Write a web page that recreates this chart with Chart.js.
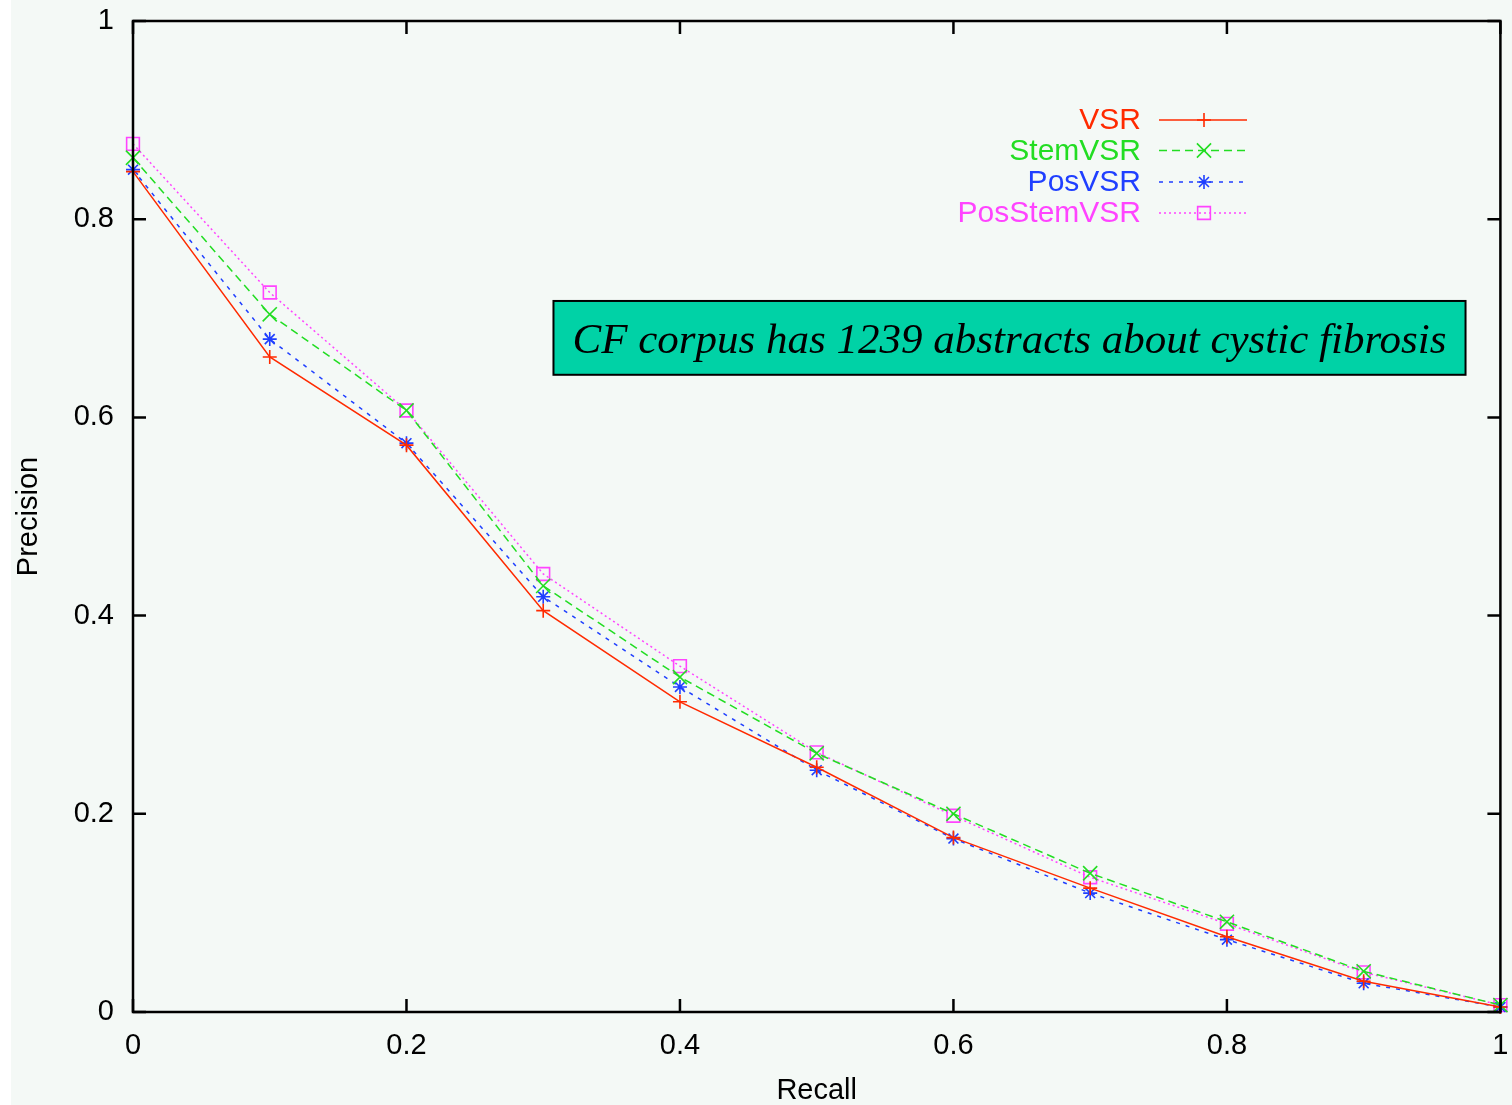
<!DOCTYPE html>
<html>
<head>
<meta charset="utf-8">
<script src="https://cdn.jsdelivr.net/npm/chart.js@4.4.1/dist/chart.umd.min.js"></script>
<style>
  html, body { margin: 0; padding: 0; background: #ffffff; }
  #wrap { width: 1512px; height: 1105px; position: relative; }
  canvas { display: block; }
</style>
</head>
<body>
<div id="wrap"><canvas id="c" width="1512" height="1105"></canvas></div>
<script>
// ---- Data ----
const recall = [0, 0.1, 0.2, 0.3, 0.4, 0.5, 0.6, 0.7, 0.8, 0.9, 1.0];
const seriesNames = ['VSR', 'StemVSR', 'PosVSR', 'PosStemVSR'];
const vsr        = [0.848, 0.661, 0.572, 0.405, 0.313, 0.247, 0.176, 0.125, 0.076, 0.031, 0.005];
const stemVsr    = [0.862, 0.704, 0.607, 0.430, 0.338, 0.261, 0.200, 0.140, 0.091, 0.041, 0.007];
const posVsr     = [0.850, 0.679, 0.574, 0.419, 0.328, 0.244, 0.175, 0.120, 0.073, 0.029, 0.005];
const posStemVsr = [0.876, 0.726, 0.607, 0.442, 0.349, 0.262, 0.198, 0.136, 0.089, 0.040, 0.007];
const xTickValues = [0, 0.2, 0.4, 0.6, 0.8, 1];
const xTickLabels = ['0', '0.2', '0.4', '0.6', '0.8', '1'];
const yTickValues = [0, 0.2, 0.4, 0.6, 0.8, 1];
const yTickLabels = ['0', '0.2', '0.4', '0.6', '0.8', '1'];
const xTitle = 'Recall';
const yTitle = 'Precision';
const noteText = 'CF corpus has 1239 abstracts about cystic fibrosis';

const colors = ['#ff2a00', '#22dd22', '#1f3fff', '#ff44ff'];
const dashes = [[], [8, 5], [4, 6], [2, 3]];
const markers = ['cross', 'crossRot', 'star', 'rect'];
const radii = [7, 10, 7, 9];
const allSeries = [vsr, stemVsr, posVsr, posStemVsr];

const FONT = '"Liberation Sans", Arial, Helvetica, sans-serif';

function toPoints(vals) { return recall.map((r, i) => ({ x: r, y: vals[i] })); }

const datasets = allSeries.map((vals, i) => ({
  label: seriesNames[i],
  data: toPoints(vals),
  borderColor: colors[i],
  backgroundColor: 'rgba(0,0,0,0)',
  borderWidth: 1.5,
  borderDash: dashes[i],
  pointStyle: markers[i],
  pointRadius: radii[i],
  pointHoverRadius: radii[i],
  pointBorderColor: colors[i],
  pointBackgroundColor: 'rgba(0,0,0,0)',
  pointBorderWidth: 1.6,
  tension: 0,
  fill: false,
  clip: false
}));

// Background plugin
const bgPlugin = {
  id: 'bg',
  beforeDraw(chart) {
    const ctx = chart.ctx;
    ctx.save();
    ctx.fillStyle = '#ffffff';
    ctx.fillRect(0, 0, chart.width, chart.height);
    ctx.fillStyle = '#f4f9f6';
    ctx.fillRect(11, 0, chart.width - 11, chart.height);
    ctx.restore();
  }
};

// Frame + inward ticks on all four sides
const framePlugin = {
  id: 'frame',
  afterDraw(chart) {
    const { ctx, chartArea: a, scales } = chart;
    const xs = scales.x, ys = scales.y;
    const tl = 13;
    ctx.save();
    ctx.strokeStyle = '#000000';
    ctx.lineWidth = 2.5;
    ctx.beginPath();
    xTickValues.forEach(v => {
      const px = xs.getPixelForValue(v);
      ctx.moveTo(px, a.bottom); ctx.lineTo(px, a.bottom - tl);
      ctx.moveTo(px, a.top); ctx.lineTo(px, a.top + tl);
    });
    yTickValues.forEach(v => {
      const py = ys.getPixelForValue(v);
      ctx.moveTo(a.left, py); ctx.lineTo(a.left + tl, py);
      ctx.moveTo(a.right, py); ctx.lineTo(a.right - tl, py);
    });
    ctx.stroke();
    ctx.strokeRect(a.left, a.top, a.right - a.left, a.bottom - a.top);
    ctx.restore();
  }
};

// Gnuplot-style key: text right-aligned, sample line with marker to its right
const keyPlugin = {
  id: 'gkey',
  afterDatasetsDraw(chart) {
    const { ctx } = chart;
    const textRight = 1141;
    const lineL = 1159, lineR = 1247, markX = 1204;
    const rowY = [120, 150.5, 182, 213];
    ctx.save();
    ctx.font = '30px ' + FONT;
    ctx.textAlign = 'right';
    ctx.textBaseline = 'middle';
    chart.data.datasets.forEach((ds, i) => {
      const y = rowY[i];
      ctx.fillStyle = ds.borderColor;
      ctx.fillText(ds.label, textRight, y + 1);
      ctx.strokeStyle = ds.borderColor;
      ctx.lineWidth = 1.5;
      ctx.setLineDash(ds.borderDash);
      ctx.beginPath();
      ctx.moveTo(lineL, y); ctx.lineTo(lineR, y);
      ctx.stroke();
      ctx.setLineDash([]);
      ctx.fillStyle = 'rgba(0,0,0,0)';
      ctx.lineWidth = 1.6;
      Chart.helpers.drawPoint(ctx, {
        pointStyle: ds.pointStyle, radius: ds.pointRadius, rotation: 0, borderWidth: 1.6
      }, markX, y);
    });
    ctx.restore();
  }
};

// Annotation box
const notePlugin = {
  id: 'note',
  afterDatasetsDraw(chart) {
    const { ctx, scales } = chart;
    const x0 = scales.x.getPixelForValue(0.3075), x1 = scales.x.getPixelForValue(0.9745);
    const y0 = scales.y.getPixelForValue(0.7175), y1 = scales.y.getPixelForValue(0.643);
    ctx.save();
    ctx.fillStyle = '#00d2a6';
    ctx.fillRect(x0, y0, x1 - x0, y1 - y0);
    ctx.strokeStyle = '#000000';
    ctx.lineWidth = 2;
    ctx.strokeRect(x0, y0, x1 - x0, y1 - y0);
    ctx.fillStyle = '#000000';
    ctx.font = 'italic 43px "Liberation Serif", "Times New Roman", serif';
    ctx.textAlign = 'center';
    ctx.textBaseline = 'alphabetic';
    ctx.fillText(noteText, (x0 + x1) / 2, y0 + 52);
    ctx.restore();
  }
};

new Chart(document.getElementById('c'), {
  type: 'line',
  data: { datasets },
  plugins: [bgPlugin, framePlugin, keyPlugin, notePlugin],
  options: {
    responsive: false,
    animation: false,
    devicePixelRatio: 1,
    layout: { padding: { left: 0, top: 21, right: 10, bottom: 0 } },
    plugins: { legend: { display: false }, tooltip: { enabled: false } },
    scales: {
      x: {
        type: 'linear', min: 0, max: 1,
        afterFit(s) { s.height = 93; s.paddingLeft = 0; s.paddingRight = 0; },
        afterBuildTicks(s) { s.ticks = xTickValues.map(v => ({ value: v })); },
        grid: { display: false, drawTicks: false },
        border: { display: false },
        ticks: {
          padding: 17, color: '#000', font: { family: FONT, size: 29 },
          maxRotation: 0, autoSkip: false,
          callback(v) { const i = xTickValues.indexOf(v); return i >= 0 ? xTickLabels[i] : ''; }
        },
        title: { display: true, text: xTitle, color: '#000', font: { family: FONT, size: 29 }, padding: { top: 0, bottom: -3 } }
      },
      y: {
        type: 'linear', min: 0, max: 1,
        afterFit(s) { s.width = 133; s.paddingTop = 0; s.paddingBottom = 0; },
        afterBuildTicks(s) { s.ticks = yTickValues.map(v => ({ value: v })); },
        grid: { display: false, drawTicks: false },
        border: { display: false },
        ticks: {
          padding: 19, color: '#000', font: { family: FONT, size: 29 }, autoSkip: false,
          callback(v) { const i = yTickValues.indexOf(v); return i >= 0 ? yTickLabels[i] : ''; }
        },
        title: { display: true, text: yTitle, color: '#000', font: { family: FONT, size: 29 }, padding: { top: 12, bottom: 0 } }
      }
    }
  }
});
</script>
</body>
</html>
